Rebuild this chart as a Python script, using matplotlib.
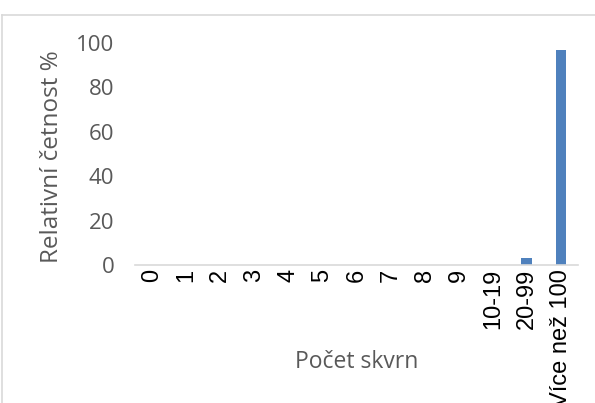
import matplotlib.pyplot as plt
from matplotlib.lines import Line2D
import numpy as np

categories = ["0", "1", "2", "3", "4", "5", "6", "7", "8", "9",
              "10-19", "20-99", "Více než 100"]
values = [0, 0, 0, 0, 0, 0, 0, 0, 0, 0, 0, 3, 97]
yticks = [0, 20, 40, 60, 80, 100]

W, H = 595, 403
fig = plt.figure(figsize=(W / 100, H / 100), dpi=100)
ax = fig.add_axes([135 / W, 1 - 265 / H, (578 - 135) / W, (265 - 43) / H])

x = np.arange(len(categories))
ax.bar(x, values, width=0.32, color="#4F81BD")
ax.set_xlim(-0.5, len(categories) - 0.5)
ax.set_ylim(0, 100)

ax.set_yticks(yticks)
ax.set_yticklabels([str(v) for v in yticks], family="Open Sans", fontsize=16, color="#595959")
ax.set_xticks(x)
ax.set_xticklabels(categories, rotation=90, family="Liberation Sans", fontsize=17,
                   color="#000000", va="top")
ax.tick_params(axis="y", length=0, pad=15)
ax.tick_params(axis="x", length=0, pad=3)

for s in ["top", "right", "left"]:
    ax.spines[s].set_visible(False)
ax.spines["bottom"].set_color("#D9D9D9")
ax.spines["bottom"].set_linewidth(1.2)

fig.text(52 / W, 1 - 157 / H, "Relativní četnost %", rotation=90, ha="center", va="center",
         family="Open Sans", fontsize=17.5, color="#595959")
fig.text(357 / W, 1 - 362 / H, "Počet skvrn", ha="center", va="center",
         family="Open Sans", fontsize=16.5, color="#595959")

# chart area border (top and left visible)
fig.add_artist(Line2D([2 / W, 1], [1 - 15 / H, 1 - 15 / H], color="#D9D9D9", lw=1.2))
fig.add_artist(Line2D([2 / W, 2 / W], [0, 1 - 15 / H], color="#D9D9D9", lw=1.2))

fig.savefig("out.png", dpi=100)
